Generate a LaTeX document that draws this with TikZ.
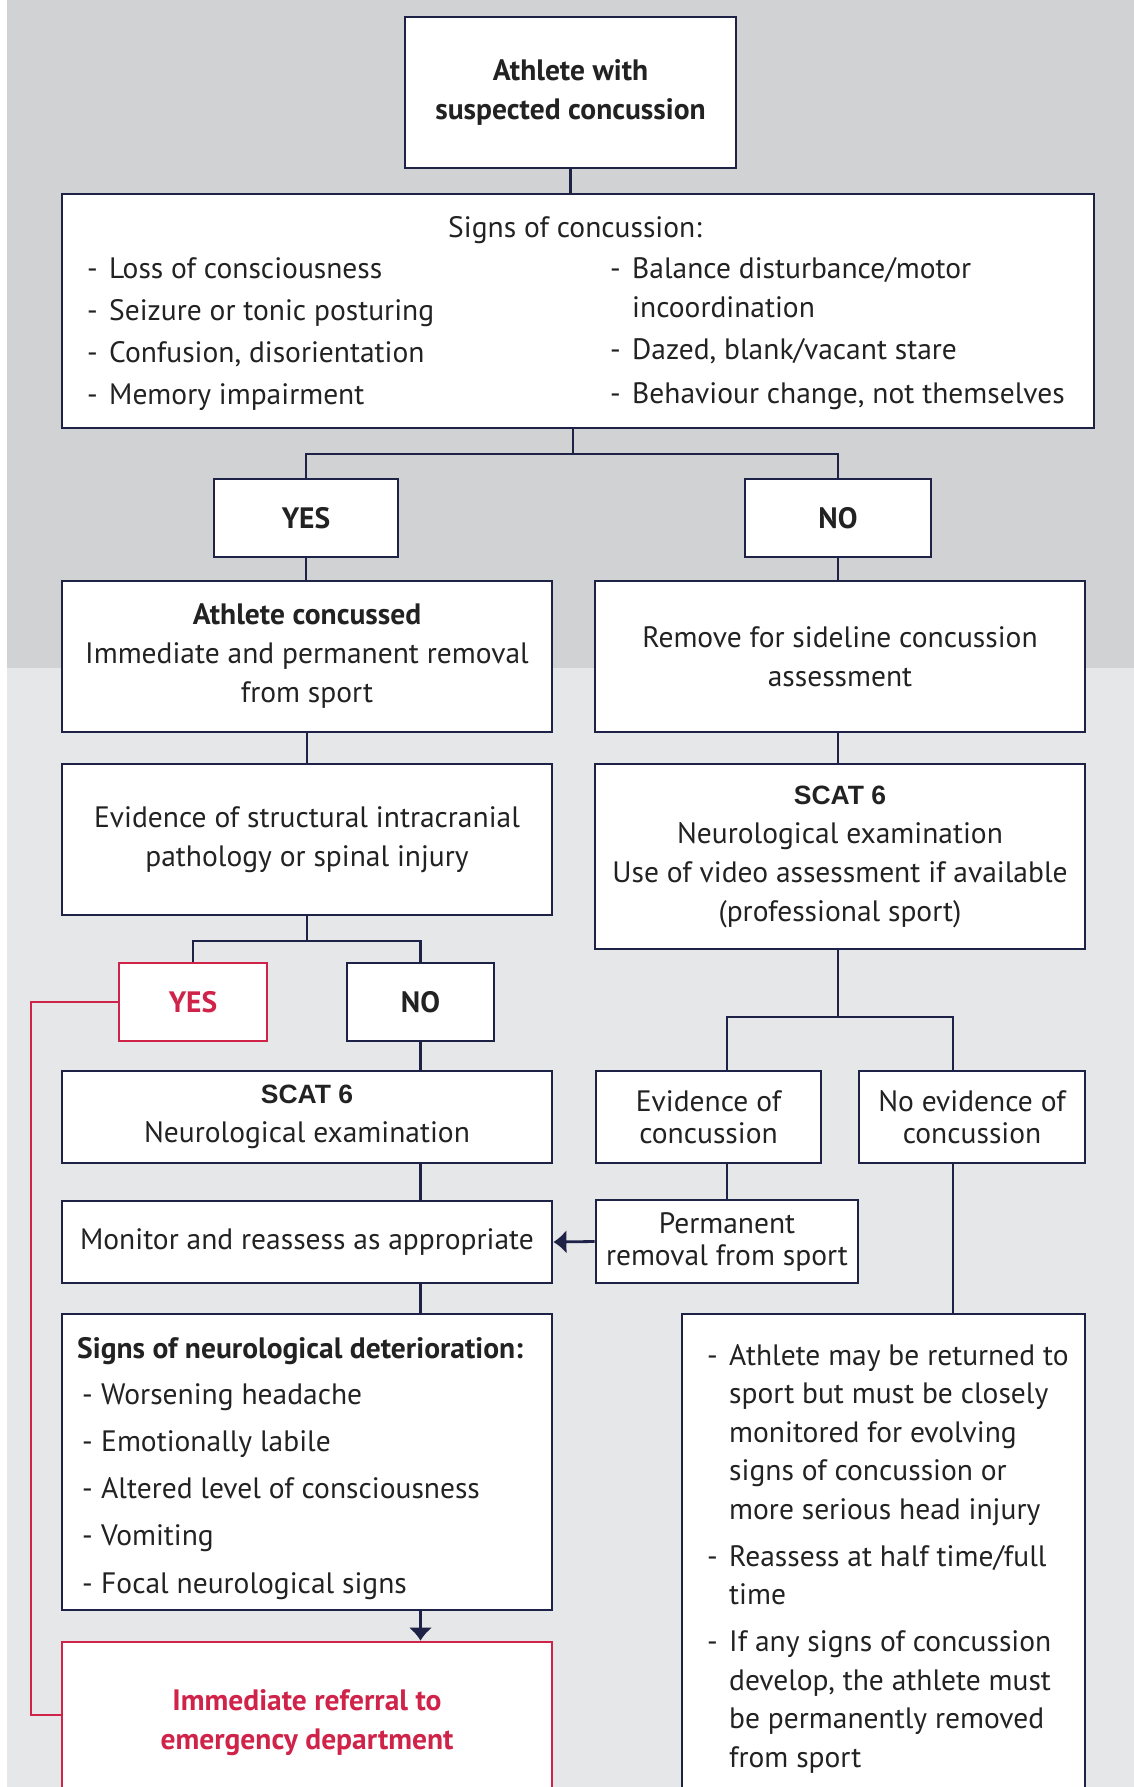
\documentclass[tikz,border=0pt]{standalone}
\usepackage{fontspec}
\setmainfont{PT Sans}
\newfontfamily\scatfont{Liberation Sans}
\usepackage{xcolor}
\usetikzlibrary{arrows.meta}
\usetikzlibrary{positioning}

\definecolor{navy}{HTML}{1F2247}
\definecolor{alert}{HTML}{D0234A}
\definecolor{ink}{HTML}{222222}
\definecolor{bgtop}{HTML}{D1D2D4}
\definecolor{bgbot}{HTML}{E6E7E8}

\newcommand{\fs}{\fontsize{29.5}{39}\selectfont}
\newcommand{\scat}{{\scatfont\fontsize{26.5}{39}\selectfont\bfseries SCAT 6}}

\tikzset{
  wh/.style 2 args={minimum width=#1, minimum height=#2},
  box/.style={draw=navy, line width=2.8pt, fill=white, inner sep=0pt,
    align=center, text=ink, font=\fs},
  redbox/.style={box, draw=alert, text=alert},
  link/.style={draw=navy, line width=2.8pt},
  redlink/.style={draw=alert, line width=2.8pt},
  tip/.style={-{Latex[length=13pt,width=24pt]}},
  listtext/.style={inner sep=0pt, anchor=base west, align=left, text=ink,
    font=\fontsize{29.5}{42}\selectfont},
}

\begin{document}
\begin{tikzpicture}[x=1pt,y=-1pt]
  \useasboundingbox (0,0) rectangle (1134,1787);
  \clip (0,0) rectangle (1134,1787);
  % background bands
  \fill[white] (0,0) rectangle (1134,1787);
  \fill[bgtop] (7,0) rectangle (1134,668);
  \fill[bgbot] (7,668) rectangle (1134,1787);

  % top part
  \node[box, wh={331}{151}, font=\fs\bfseries] (start) at (570.5,92.5)
    {Athlete with\\suspected concussion};
  \node[box, wh={1032}{234}] (signs) at (578,311) {};
  \node[listtext, anchor=base] (signstitle) at (575,238) {Signs of concussion:};
  \node[listtext] (signsleft) at (87,279) {\begin{tabular}[t]{@{}p{22pt}@{}l@{}}
    -&Loss of consciousness\\
    -&Seizure or tonic posturing\\
    -&Confusion, disorientation\\
    -&Memory impairment
  \end{tabular}};
  \node[listtext] (signsright) at (610,279) {\begin{tabular}[t]{@{}p{22pt}@{}l@{}}
    -&Balance disturbance/motor\\[-3pt]
    &incoordination\\
    -&Dazed, blank/vacant stare\\[1pt]
    -&Behaviour change, not themselves
  \end{tabular}};

  \node[box, wh={184}{78}, font=\fs\bfseries] (yes) at (306,518) {YES};
  \node[box, wh={186}{78}, font=\fs\bfseries] (no) at (838,518) {NO};

  \node[box, wh={490}{151}] (concussed) at (307,656.5)
    {\textbf{Athlete concussed}\\Immediate and permanent removal\\from sport};
  \node[box, wh={490}{151}] (sideline) at (840,656.5)
    {Remove for sideline concussion\\assessment};

  % left branch
  \node[box, wh={490}{151}] (structural) at (307,839.5)
    {Evidence of structural intracranial\\pathology or spinal injury};
  \node[redbox, wh={148}{78}, font=\fs\bfseries] (yes2) at (193,1002) {YES};
  \node[box, wh={147}{78}, font=\fs\bfseries] (no2) at (420.5,1002) {NO};
  \node[box, wh={490}{92}] (scatL) at (307,1117)
    {\scat\\Neurological examination};
  \node[box, wh={490}{82}] (monitor) at (307,1242)
    {Monitor and reassess as appropriate};
  \node[box, wh={490}{296}] (deter) at (307,1462) {};
  \node[listtext, font=\fs\bfseries] (detertitle) at (77,1358)
    {Signs of neurological deterioration:};
  \node[listtext] (deterlist) at (82,1404) {\def\arraystretch{1.125}%
  \begin{tabular}[t]{@{}p{19pt}@{}l@{}}
    -&Worsening headache\\
    -&Emotionally labile\\
    -&Altered level of consciousness\\
    -&Vomiting\\
    -&Focal neurological signs
  \end{tabular}};
  \node[redbox, wh={490}{188}] (referral) at (307,1736) {};
  \node[listtext, anchor=base, align=center, text=alert, font=\fs\bfseries]
    (refertext) at (307,1749) {Immediate referral to\\emergency department};

  % right branch
  \node[box, wh={490}{185}] (scatR) at (840,856.5)
    {\scat\\Neurological examination\\Use of video assessment if available\\(professional sport)};
  \node[box, wh={225}{92}] (evid) at (708.5,1117)
    {Evidence of\\[-7pt]concussion};
  \node[box, wh={226}{92}] (noevid) at (972,1117)
    {No evidence of\\[-7pt]concussion};
  \node[box, wh={262}{83}] (perm) at (727,1241.5)
    {Permanent\\[-7pt]removal from sport};
  \node[box, wh={403}{500}] (advice) at (883.5,1564) {};
  \node[listtext] (advicelist) at (707,1365) {\def\arraystretch{0.92}%
  \begin{tabular}[t]{@{}p{22pt}@{}l@{}}
    -&Athlete may be returned to\\
    &sport but must be closely\\
    &monitored for evolving\\
    &signs of concussion or\\
    &more serious head injury\\[8pt]
    -&Reassess at half time/full\\
    &time\\[8pt]
    -&If any signs of concussion\\
    &develop, the athlete must\\
    &be permanently removed\\
    &from sport
  \end{tabular}};

  % connectors
  \coordinate (fork1) at (573,454);
  \coordinate (fork2) at (307,941);
  \coordinate (fork3) at (838,1017);
  \coordinate (redturn) at (31,1715);
  \draw[link] (start.south) -- (start.south |- signs.north);
  \draw[link] (fork1 |- signs.south) -- (fork1);
  \draw[link] (yes.north) |- (fork1) -| (no.north);
  \draw[link] (yes.south) -- (yes.south |- concussed.north);
  \draw[link] (no.south) -- (no.south |- sideline.north);
  \draw[link] (concussed.south) -- (structural.north);
  \draw[link] (fork3 |- sideline.south) -- (fork3 |- scatR.north);
  \draw[link] (structural.south) -- (fork2);
  \draw[link] (yes2.north) |- (fork2) -| (no2.north);
  \draw[link] (no2.south) -- (no2.south |- scatL.north);
  \draw[link] (no2.south |- scatL.south) -- (no2.south |- monitor.north);
  \draw[link] (no2.south |- monitor.south) -- (no2.south |- deter.north);
  \draw[link, tip] (no2.south |- deter.south) -- (no2.south |- referral.north);
  \draw[link] (fork3 |- scatR.south) -- (fork3);
  \draw[link] (perm.north |- evid.north) |- (fork3) -| ([xshift=-19]noevid.north);
  \draw[link] (perm.north |- evid.south) -- (perm.north);
  \draw[link, tip] (perm.west) -- (monitor.east);
  \draw[link] ([xshift=-19]noevid.south) -- ([xshift=-19]noevid.south |- advice.north);
  \draw[redlink] (yes2.west) -| (redturn) -- (redturn -| referral.west);
\end{tikzpicture}
\end{document}
